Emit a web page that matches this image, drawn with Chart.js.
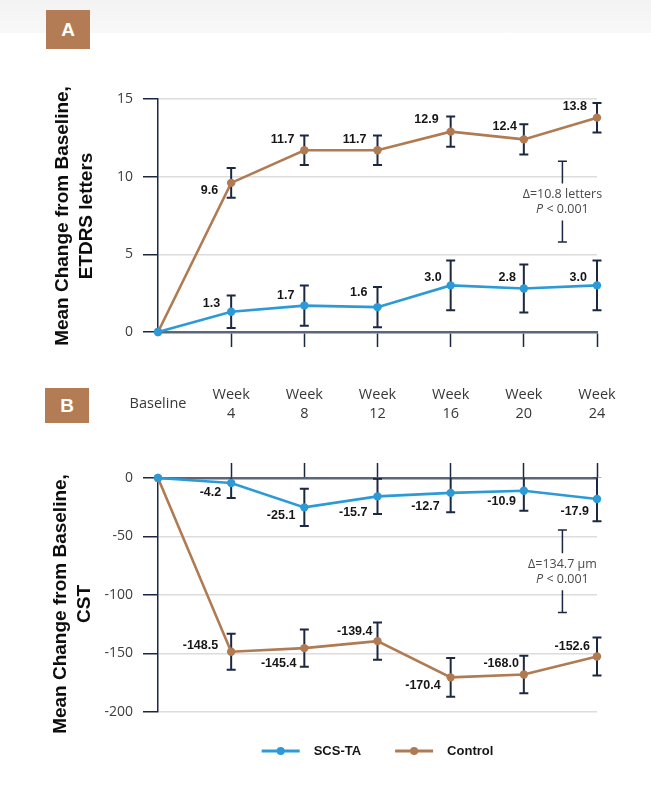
<!DOCTYPE html>
<html>
<head>
<meta charset="utf-8">
<script src="https://cdn.jsdelivr.net/npm/chart.js@4.4.1/dist/chart.umd.min.js"></script>
<style>
  html, body { margin: 0; padding: 0; background: #fff; }
  #page { position: relative; width: 651px; height: 790px; overflow: hidden; background: #fff; }
  #band { position: absolute; left: 0; top: 0; width: 651px; height: 33px; background: linear-gradient(#f3f3f3, #f8f8f8); }
  .tag { position: absolute; background: #b47c55; color: #fff; font: bold 19px "Liberation Sans", Arial, sans-serif;
         display: flex; align-items: center; justify-content: center; }
  .ytitle { position: absolute; white-space: nowrap; font: bold 19px/24px "Liberation Sans", Arial, sans-serif;
            text-align: center; color: #0d0d0d; transform: translate(-50%, -50%) rotate(-90deg); }
  canvas { position: absolute; left: 0; }
</style>
</head>
<body>
<div id="page">
  <div id="band"></div>
  <canvas id="bcva" width="651" height="440" style="top:0"></canvas>
  <canvas id="cst" width="651" height="342" style="top:448px"></canvas>
  <div class="tag" style="left:46px;top:10px;width:44px;height:39px">A</div>
  <div class="tag" style="left:45px;top:388px;width:44px;height:35px">B</div>
  <div class="ytitle" style="left:74px;top:216px">Mean Change from Baseline,<br>ETDRS letters</div>
  <div class="ytitle" style="left:72px;top:604px">Mean Change from Baseline,<br>CST</div>
</div>
<script>
// Visit schedule
const categories = ['Baseline', 'Week 4', 'Week 8', 'Week 12', 'Week 16', 'Week 20', 'Week 24'];
const seriesNames = ['SCS-TA', 'Control'];

// Panel A: BCVA, mean change in ETDRS letters (± error)
const bcvaScs      = [0, 1.3, 1.7, 1.6, 3.0, 2.8, 3.0];
const bcvaScsErr   = [0, 1.05, 1.3, 1.3, 1.6, 1.55, 1.6];
const bcvaCtrl     = [0, 9.6, 11.7, 11.7, 12.9, 12.4, 13.8];
const bcvaCtrlErr  = [0, 0.95, 0.95, 0.95, 0.97, 0.97, 0.95];
const bcvaTicks    = [0, 5, 10, 15];
const bcvaNote     = ['Δ=10.8 letters', 'P < 0.001'];
const bcvaBracket  = [11.0, 5.8];

// Panel B: central subfield thickness, mean change in µm (± error)
const cstScs       = [0, -4.2, -25.1, -15.7, -12.7, -10.9, -17.9];
const cstScsErr    = [0, 13, 16, 15, 16.6, 17, 19];
const cstCtrl      = [0, -148.5, -145.4, -139.4, -170.4, -168.0, -152.6];
const cstCtrlErr   = [0, 15.4, 16, 16, 16.5, 16, 16.3];
const cstTicks     = [0, -50, -100, -150, -200];
const cstNote      = ['Δ=134.7 μm', 'P < 0.001'];
const cstBracket   = [-44.5, -115];

const BLUE = '#2c9ad7';
const BROWN = '#b07a52';
const NAVY = '#1c2742';
const AXIS = '#5c667a';
const GRID = '#dcdcdc';
const TICK_FONT = '"Open Sans", "DejaVu Sans", sans-serif';
const BOLD_FONT = '"Liberation Sans", Arial, sans-serif';

// Vertical error bars, clipped to the plot height
const errorBars = {
  id: 'errorBars',
  beforeDatasetsDraw(chart) {
    const { ctx, chartArea } = chart;
    const ys = chart.scales.y;
    ctx.save();
    ctx.beginPath();
    ctx.rect(0, chartArea.top - 0.5, chart.width, chartArea.bottom - chartArea.top + 1);
    ctx.clip();
    ctx.strokeStyle = NAVY;
    ctx.lineWidth = 2;
    chart.data.datasets.forEach((ds, i) => {
      const meta = chart.getDatasetMeta(i);
      ds.errors.forEach((e, j) => {
        if (!e) return;
        const x = meta.data[j].x;
        const yt = ys.getPixelForValue(ds.data[j] + e);
        const yb = ys.getPixelForValue(ds.data[j] - e);
        ctx.beginPath();
        ctx.moveTo(x, yt); ctx.lineTo(x, yb);
        ctx.moveTo(x - 4.5, yt); ctx.lineTo(x + 4.5, yt);
        ctx.moveTo(x - 4.5, yb); ctx.lineTo(x + 4.5, yb);
        ctx.stroke();
      });
    });
    ctx.restore();
  }
};

// Value labels beside each visit point
const valueLabels = {
  id: 'valueLabels',
  afterDatasetsDraw(chart, args, opts) {
    const { ctx } = chart;
    ctx.save();
    ctx.font = 'bold 12.5px ' + BOLD_FONT;
    ctx.fillStyle = '#161616';
    ctx.textAlign = 'right';
    ctx.textBaseline = 'middle';
    chart.data.datasets.forEach((ds, i) => {
      const meta = chart.getDatasetMeta(i);
      ds.data.forEach((v, j) => {
        if (j === 0) return;
        const [dx, dy] = opts.offsets[i][j];
        ctx.fillText(v.toFixed(1), meta.data[j].x + dx, meta.data[j].y + dy);
      });
    });
    ctx.restore();
  }
};

// Between-group difference bracket with its note
const diffNote = {
  id: 'diffNote',
  afterDraw(chart, args, opts) {
    const { ctx } = chart;
    const xs = chart.scales.x, ys = chart.scales.y;
    const x = (xs.getPixelForValue(5) + xs.getPixelForValue(6)) / 2 + 2;
    const y1 = ys.getPixelForValue(opts.bracket[0]);
    const y2 = ys.getPixelForValue(opts.bracket[1]);
    const mid = (y1 + y2) / 2;
    ctx.save();
    ctx.strokeStyle = NAVY;
    ctx.lineWidth = 1.5;
    ctx.beginPath();
    ctx.moveTo(x, y1); ctx.lineTo(x, mid - 18);
    ctx.moveTo(x, mid + 19); ctx.lineTo(x, y2);
    ctx.moveTo(x - 4.5, y1); ctx.lineTo(x + 4.5, y1);
    ctx.moveTo(x - 4.5, y2); ctx.lineTo(x + 4.5, y2);
    ctx.stroke();
    ctx.fillStyle = '#4a4a4a';
    ctx.textBaseline = 'middle';
    ctx.textAlign = 'center';
    ctx.font = '12.5px ' + TICK_FONT;
    ctx.fillText(opts.lines[0], x, mid - 7);
    // second line: italic P followed by the comparison
    const rest = opts.lines[1].slice(1);
    ctx.font = 'italic 12.5px ' + TICK_FONT;
    const wP = ctx.measureText('P').width;
    ctx.font = '12.5px ' + TICK_FONT;
    const wR = ctx.measureText(rest).width;
    const x0 = x - (wP + wR) / 2;
    ctx.textAlign = 'left';
    ctx.font = 'italic 12.5px ' + TICK_FONT;
    ctx.fillText('P', x0, mid + 8);
    ctx.font = '12.5px ' + TICK_FONT;
    ctx.fillText(rest, x0 + wP, mid + 8);
    ctx.restore();
  }
};

// Visit names between the two panels
const visitLabels = {
  id: 'visitLabels',
  afterDraw(chart) {
    const { ctx } = chart;
    const xs = chart.scales.x;
    ctx.save();
    ctx.font = '14.5px ' + TICK_FONT;
    ctx.fillStyle = '#383838';
    ctx.textAlign = 'center';
    ctx.textBaseline = 'middle';
    categories.forEach((c, j) => {
      const x = xs.getPixelForValue(j);
      const parts = c.split(' ');
      if (parts.length === 1) {
        ctx.fillText(parts[0], x, 404);
      } else {
        ctx.fillText(parts[0], x, 395);
        ctx.fillText(parts[1], x, 414);
      }
    });
    ctx.restore();
  }
};

// Legend under panel B: line + dot sample and bold name
const lineLegend = {
  id: 'lineLegend',
  afterDraw(chart) {
    const { ctx, chartArea } = chart;
    ctx.save();
    ctx.font = 'bold 13px ' + BOLD_FONT;
    const items = chart.data.datasets.map(ds => ({ ds, w: 38 + 14 + ctx.measureText(ds.label).width }));
    const gap = 34;
    const total = items.reduce((s, it) => s + it.w, 0) + gap * (items.length - 1);
    let x = (chartArea.left + chartArea.right) / 2 - total / 2;
    const y = 303;
    items.forEach(it => {
      ctx.strokeStyle = it.ds.borderColor;
      ctx.lineWidth = 3;
      ctx.beginPath(); ctx.moveTo(x, y); ctx.lineTo(x + 38, y); ctx.stroke();
      ctx.fillStyle = it.ds.borderColor;
      ctx.beginPath(); ctx.arc(x + 19, y, 4, 0, Math.PI * 2); ctx.fill();
      ctx.fillStyle = '#161616';
      ctx.textAlign = 'left';
      ctx.textBaseline = 'middle';
      ctx.fillText(it.ds.label, x + 52, y + 0.5);
      x += it.w + gap;
    });
    ctx.restore();
  }
};

function series(label, data, errors, color) {
  return {
    label, data, errors,
    borderColor: color, backgroundColor: color,
    pointBackgroundColor: color, pointBorderWidth: 0,
    pointRadius: 4.2, borderWidth: 2.6, tension: 0, clip: false
  };
}

function yScale(min, max, step, width) {
  return {
    min, max,
    ticks: { stepSize: step, padding: 10, color: '#3d3d3d', font: { family: TICK_FONT, size: 14 } },
    grid: {
      color: c => (c.tick && c.tick.value === 0) ? 'rgba(0,0,0,0)' : GRID,
      lineWidth: 1.5,
      tickColor: NAVY, tickLength: 15, tickWidth: 1.5
    },
    border: { color: NAVY, width: 1.5 },
    afterFit(s) { s.width = width; }
  };
}

function xScale(position, height) {
  return {
    position,
    ticks: { display: false },
    grid: {
      drawOnChartArea: false, drawTicks: true, tickLength: 15, tickWidth: 1.5,
      tickColor: c => c.index === 0 ? 'rgba(0,0,0,0)' : NAVY
    },
    border: { color: AXIS, width: 2.5 },
    afterFit(s) { s.height = height; }
  };
}

const common = {
  responsive: false, animation: false, devicePixelRatio: 1, events: [],
};

new Chart(document.getElementById('bcva'), {
  type: 'line',
  data: {
    labels: categories,
    datasets: [
      series(seriesNames[0], bcvaScs, bcvaScsErr, BLUE),
      series(seriesNames[1], bcvaCtrl, bcvaCtrlErr, BROWN)
    ]
  },
  options: {
    ...common,
    layout: { padding: { top: 99, right: 54, bottom: 80, left: 0 } },
    scales: { x: xScale('bottom', 28), y: yScale(bcvaTicks[0], bcvaTicks[bcvaTicks.length - 1], 5, 158) },
    plugins: {
      legend: { display: false }, tooltip: { enabled: false },
      valueLabels: { offsets: [
        [null, [-11, -8], [-10, -10], [-10, -15], [-9, -8], [-8, -11], [-10, -8]],
        [null, [-13, 8], [-10, -11], [-11, -11], [-12, -12], [-7, -13], [-10, -11]]
      ] },
      diffNote: { lines: bcvaNote, bracket: bcvaBracket }
    }
  },
  plugins: [errorBars, valueLabels, diffNote, visitLabels]
});

new Chart(document.getElementById('cst'), {
  type: 'line',
  data: {
    labels: categories,
    datasets: [
      series(seriesNames[0], cstScs, cstScsErr, BLUE),
      series(seriesNames[1], cstCtrl, cstCtrlErr, BROWN)
    ]
  },
  options: {
    ...common,
    layout: { padding: { top: 0, right: 54, bottom: 78, left: 0 } },
    scales: { x: xScale('top', 30), y: yScale(cstTicks[cstTicks.length - 1], cstTicks[0], 50, 158) },
    plugins: {
      legend: { display: false }, tooltip: { enabled: false },
      valueLabels: { offsets: [
        [null, [-10, 10], [-9, 8], [-10, 16], [-11, 14], [-8, 11], [-8, 13]],
        [null, [-13, -6], [-8, 15], [-5, -10], [-10, 8], [-5, -11], [-7, -10]]
      ] },
      diffNote: { lines: cstNote, bracket: cstBracket }
    }
  },
  plugins: [errorBars, valueLabels, diffNote, lineLegend]
});
</script>
</body>
</html>
